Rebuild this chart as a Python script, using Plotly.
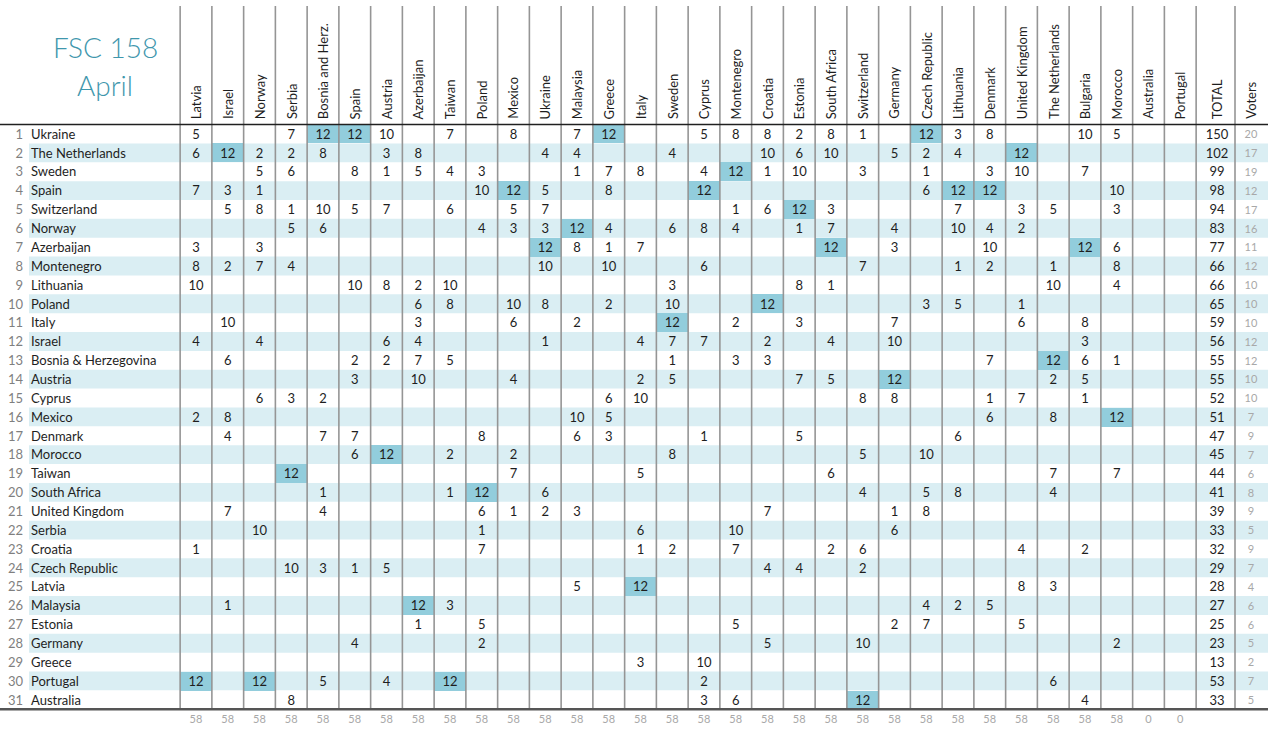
import plotly.graph_objects as go

# ---------------- data ----------------
title_lines = ["FSC 158", "April"]

voters = ["Latvia", "Israel", "Norway", "Serbia", "Bosnia and Herz.", "Spain", "Austria",
          "Azerbaijan", "Taiwan", "Poland", "Mexico", "Ukraine", "Malaysia", "Greece", "Italy",
          "Sweden", "Cyprus", "Montenegro", "Croatia", "Estonia", "South Africa", "Switzerland",
          "Germany", "Czech Republic", "Lithuania", "Denmark", "United Kingdom",
          "The Netherlands", "Bulgaria", "Morocco", "Australia", "Portugal"]
voter_codes = ["LV", "IL", "NO", "RS", "BA", "ES", "AT", "AZ", "TW", "PL", "MX", "UA", "MY",
               "GR", "IT", "SE", "CY", "ME", "HR", "EE", "ZA", "CH", "DE", "CZ", "LT", "DK",
               "GB", "NL", "BG", "MA", "AU", "PT"]
extra_headers = ["TOTAL", "Voters"]

ranks = list(range(1, 32))
countries = ["Ukraine", "The Netherlands", "Sweden", "Spain", "Switzerland", "Norway",
             "Azerbaijan", "Montenegro", "Lithuania", "Poland", "Italy", "Israel",
             "Bosnia & Herzegovina", "Austria", "Cyprus", "Mexico", "Denmark", "Morocco",
             "Taiwan", "South Africa", "United Kingdom", "Serbia", "Croatia", "Czech Republic",
             "Latvia", "Malaysia", "Estonia", "Germany", "Greece", "Portugal", "Australia"]

votes_received = [
    dict(LV=5, RS=7, BA=12, ES=12, AT=10, TW=7, MX=8, MY=7, GR=12, CY=5, ME=8, HR=8, EE=2, ZA=8, CH=1, CZ=12, LT=3, DK=8, BG=10, MA=5),
    dict(LV=6, IL=12, NO=2, RS=2, BA=8, AT=3, AZ=8, UA=4, MY=4, SE=4, HR=10, EE=6, ZA=10, DE=5, CZ=2, LT=4, GB=12),
    dict(NO=5, RS=6, ES=8, AT=1, AZ=5, TW=4, PL=3, MY=1, GR=7, IT=8, CY=4, ME=12, HR=1, EE=10, CH=3, CZ=1, DK=3, GB=10, BG=7),
    dict(LV=7, IL=3, NO=1, PL=10, MX=12, UA=5, GR=8, CY=12, CZ=6, LT=12, DK=12, MA=10),
    dict(IL=5, NO=8, RS=1, BA=10, ES=5, AT=7, TW=6, MX=5, UA=7, ME=1, HR=6, EE=12, ZA=3, LT=7, GB=3, NL=5, MA=3),
    dict(RS=5, BA=6, PL=4, MX=3, UA=3, MY=12, GR=4, SE=6, CY=8, ME=4, EE=1, ZA=7, DE=4, LT=10, DK=4, GB=2),
    dict(LV=3, NO=3, UA=12, MY=8, GR=1, IT=7, ZA=12, DE=3, DK=10, BG=12, MA=6),
    dict(LV=8, IL=2, NO=7, RS=4, UA=10, GR=10, CY=6, CH=7, LT=1, DK=2, NL=1, MA=8),
    dict(LV=10, ES=10, AT=8, AZ=2, TW=10, SE=3, EE=8, ZA=1, NL=10, MA=4),
    dict(AZ=6, TW=8, MX=10, UA=8, GR=2, SE=10, HR=12, CZ=3, LT=5, GB=1),
    dict(IL=10, AZ=3, MX=6, MY=2, SE=12, ME=2, EE=3, DE=7, GB=6, BG=8),
    dict(LV=4, NO=4, AT=6, AZ=4, UA=1, IT=4, SE=7, CY=7, HR=2, ZA=4, DE=10, BG=3),
    dict(IL=6, ES=2, AT=2, AZ=7, TW=5, SE=1, ME=3, HR=3, DK=7, NL=12, BG=6, MA=1),
    dict(ES=3, AZ=10, MX=4, IT=2, SE=5, EE=7, ZA=5, DE=12, NL=2, BG=5),
    dict(NO=6, RS=3, BA=2, GR=6, IT=10, CH=8, DE=8, DK=1, GB=7, BG=1),
    dict(LV=2, IL=8, MY=10, GR=5, DK=6, NL=8, MA=12),
    dict(IL=4, BA=7, ES=7, PL=8, MY=6, GR=3, CY=1, EE=5, LT=6),
    dict(ES=6, AT=12, TW=2, MX=2, SE=8, CH=5, CZ=10),
    dict(RS=12, MX=7, IT=5, ZA=6, NL=7, MA=7),
    dict(BA=1, TW=1, PL=12, UA=6, CH=4, CZ=5, LT=8, NL=4),
    dict(IL=7, BA=4, PL=6, MX=1, UA=2, MY=3, HR=7, DE=1, CZ=8),
    dict(NO=10, PL=1, IT=6, ME=10, DE=6),
    dict(LV=1, PL=7, IT=1, SE=2, ME=7, ZA=2, CH=6, GB=4, BG=2),
    dict(RS=10, BA=3, ES=1, AT=5, HR=4, EE=4, CH=2),
    dict(MY=5, IT=12, GB=8, NL=3),
    dict(IL=1, AZ=12, TW=3, CZ=4, LT=2, DK=5),
    dict(AZ=1, PL=5, ME=5, DE=2, CZ=7, GB=5),
    dict(ES=4, PL=2, HR=5, CH=10, MA=2),
    dict(IT=3, CY=10),
    dict(LV=12, NO=12, BA=5, AT=4, TW=12, CY=2, NL=6),
    dict(RS=8, CY=3, ME=6, CH=12, BG=4),
]

totals = [150, 102, 99, 98, 94, 83, 77, 66, 66, 65, 59, 56, 55, 55, 52, 51, 47, 45, 44, 41,
          39, 33, 32, 29, 28, 27, 25, 23, 13, 53, 33]
voter_counts = [20, 17, 19, 12, 17, 16, 11, 12, 10, 10, 10, 12, 12, 10, 10, 7, 9, 7, 6, 8,
                9, 5, 9, 7, 4, 6, 6, 5, 2, 7, 5]
points_given = [58, 58, 58, 58, 58, 58, 58, 58, 58, 58, 58, 58, 58, 58, 58, 58, 58, 58, 58,
                58, 58, 58, 58, 58, 58, 58, 58, 58, 58, 58, 0, 0]

# ---------------- layout geometry ----------------
W, H = 1280, 730
COL_W = 31.75      # px per voting column
ROW_H = 18.86      # px per row
X0_PX = 196.0      # pixel centre of first voting column
Y0_PX = 134.0      # pixel centre of row 1
TEXT_DY = 0.08     # small downward nudge of cell text (in row units)


def xu(px):
    return (px - X0_PX) / COL_W


def yu(py):
    return 1 + (py - Y0_PX) / ROW_H


FONT = "Lato"
TEAL_DARK = "#3f97ad"
STRIPE = "#daeef3"
HILITE = "#92cddc"
GRID = "#959595"
TXT = "#1e1e1e"
GREY = "#a8a8a8"

n_cols = len(voters)
col_idx = list(range(n_cols))
x_total = xu(1217)
x_voters = xu(1251)
x_split = xu(1235)
x_left = xu(0)
x_right = xu(1268)
y_header = 0.5
y_bottom = len(ranks) + 0.5
y_sum = len(ranks) + 1
text_rows = [r + TEXT_DY for r in ranks]

fig = go.Figure()

# stripes for even rows
shapes = []
for r in ranks:
    if r % 2 == 0:
        shapes.append(dict(type="rect", xref="x", yref="y", x0=xu(29), x1=x_right,
                           y0=r - 0.5, y1=r + 0.5, fillcolor=STRIPE, line_width=0,
                           layer="below"))

# highlight of 12-point cells via heatmap
z = []
for row in votes_received:
    z.append([1 if row.get(code) == 12 else None for code in voter_codes])
fig.add_trace(go.Heatmap(x=col_idx, y=ranks, z=z, showscale=False, hoverinfo="skip",
                         colorscale=[[0, HILITE], [1, HILITE]], zmin=0, zmax=1))

# vertical grid lines
for c in range(-1, n_cols):
    shapes.append(dict(type="line", xref="x", yref="y", x0=c + 0.5, x1=c + 0.5,
                       y0=yu(6), y1=y_bottom, line=dict(color=GRID, width=1.6),
                       layer="above"))
shapes.append(dict(type="line", xref="x", yref="y", x0=x_split, x1=x_split,
                   y0=yu(6), y1=y_bottom, line=dict(color=GRID, width=1.6), layer="above"))
# header rule & bottom rule
shapes.append(dict(type="line", xref="x", yref="y", x0=x_left, x1=x_right,
                   y0=y_header, y1=y_header, line=dict(color="#202020", width=1.5),
                   layer="above"))
shapes.append(dict(type="line", xref="x", yref="y", x0=x_left, x1=x_right,
                   y0=y_bottom, y1=y_bottom, line=dict(color="#555555", width=2.5),
                   layer="above"))

# point values
vx, vy, vt = [], [], []
for r, row in zip(text_rows, votes_received):
    for ci, code in enumerate(voter_codes):
        if code in row:
            vx.append(ci)
            vy.append(r)
            vt.append(str(row[code]))
fig.add_trace(go.Scatter(x=vx, y=vy, text=vt, mode="text", hoverinfo="skip",
                         textfont=dict(family=FONT, size=13, color=TXT)))

# rank numbers
fig.add_trace(go.Scatter(x=[xu(23)] * len(ranks), y=text_rows, text=[str(r) for r in ranks],
                         mode="text", textposition="middle left", hoverinfo="skip",
                         textfont=dict(family=FONT, size=13, color="#7f7f7f")))
# country names
fig.add_trace(go.Scatter(x=[xu(31)] * len(ranks), y=text_rows, text=countries,
                         mode="text", textposition="middle right", hoverinfo="skip",
                         textfont=dict(family=FONT, size=13, color=TXT)))
# totals
fig.add_trace(go.Scatter(x=[x_total] * len(ranks), y=text_rows, text=[str(t) for t in totals],
                         mode="text", hoverinfo="skip",
                         textfont=dict(family=FONT, size=13, color=TXT)))
# voter counts
fig.add_trace(go.Scatter(x=[x_voters] * len(ranks), y=text_rows,
                         text=[str(v) for v in voter_counts], mode="text", hoverinfo="skip",
                         textfont=dict(family=FONT, size=11, color=GREY)))
# points given per voter
fig.add_trace(go.Scatter(x=col_idx, y=[y_sum + TEXT_DY] * n_cols,
                         text=[str(p) for p in points_given],
                         mode="text", hoverinfo="skip",
                         textfont=dict(family=FONT, size=11, color=GREY)))

# header annotations (rotated)
annotations = []
for ci, name in enumerate(voters):
    annotations.append(dict(x=ci, y=0.32, xref="x", yref="y", text=name, textangle=-90,
                            showarrow=False, xanchor="center", yanchor="bottom",
                            font=dict(family=FONT, size=13, color=TXT)))
for xpos, name in zip([x_total, x_voters], extra_headers):
    annotations.append(dict(x=xpos, y=0.32, xref="x", yref="y", text=name, textangle=-90,
                            showarrow=False, xanchor="center", yanchor="bottom",
                            font=dict(family=FONT, size=13, color=TXT)))
# title
for py, line in zip([47, 85], title_lines):
    annotations.append(dict(x=xu(105), y=yu(py), xref="x", yref="y", text=line,
                            showarrow=False, xanchor="center", yanchor="middle",
                            font=dict(family=FONT, size=28, color=TEAL_DARK, weight=300)))

fig.update_layout(
    width=W, height=H, margin=dict(l=0, r=0, t=0, b=0),
    paper_bgcolor="white", plot_bgcolor="white", showlegend=False,
    xaxis=dict(range=[xu(0), xu(W)], visible=False, fixedrange=True),
    yaxis=dict(range=[yu(H), yu(0)], visible=False, fixedrange=True),
    shapes=shapes, annotations=annotations,
)

fig.write_html("out.html", config={"displayModeBar": False},
               post_script="document.body.style.margin='0px';")
